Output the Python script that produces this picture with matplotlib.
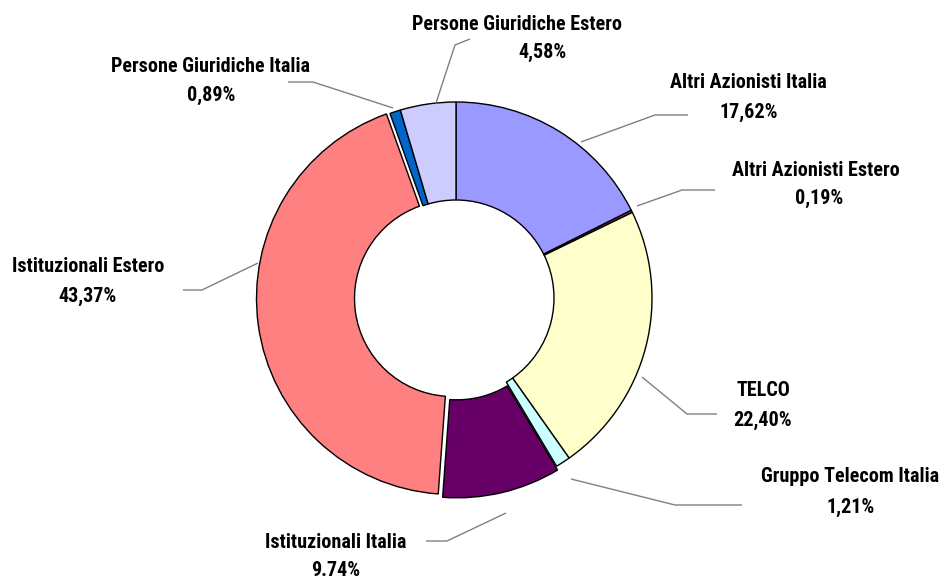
import matplotlib
matplotlib.use('Agg')
import matplotlib.pyplot as plt

# dati del grafico (quote percentuali dell'azionariato)
labels = ['Altri Azionisti Italia', 'Altri Azionisti Estero', 'TELCO',
          'Gruppo Telecom Italia', 'Istituzionali Italia', 'Istituzionali Estero',
          'Persone Giuridiche Italia', 'Persone Giuridiche Estero']
values = [17.62, 0.19, 22.40, 1.21, 9.74, 43.37, 0.89, 4.58]
pct_labels = ['17,62%', '0,19%', '22,40%', '1,21%', '9.74%', '43,37%', '0,89%', '4,58%']

colors = ['#9999FF', '#993366', '#FFFFCC', '#CCFFFF', '#660066', '#FF8080', '#0066CC', '#CCCCFF']
explode = [0, 0, 0, 0, 0.02, 0.018, 0, 0]

# posizioni (in pixel immagine) delle etichette e linee di richiamo
name_pos = [(748, 82), (816, 170), (763, 391), (850, 477), (336, 543), (88, 267), (211, 66), (517, 24)]
pct_pos = [(749, 112), (819, 198), (763, 420), (851, 507), (336, 571), (88, 296), (211, 95), (543, 52)]
leaders = [
    [(581, 142), (655, 115), (688, 115)],
    [(637, 206), (682, 190), (715, 190)],
    [(642, 377), (687, 414), (717, 414)],
    [(571, 479), (675, 505), (742, 505)],
    [(506, 513), (447, 541), (426, 541)],
    [(258, 263), (202, 290), (183, 290)],
    [(393, 108), (313, 82), (288, 82)],
    [(436, 103), (455, 45), (470, 39)],
]

W, H = 941, 578
R = 196
fig = plt.figure(figsize=(W / 100, H / 100), dpi=100)
ax = fig.add_axes([0, 0, 1, 1])

# asse y invertito: si lavora in coordinate pixel dell'immagine
# (explode di matplotlib e' in unita' dati, quindi va moltiplicato per il raggio)
ax.pie(values, colors=colors, explode=[e * R for e in explode], startangle=-90, counterclock=True,
       center=(456, 298), radius=R,
       wedgeprops=dict(width=R / 2, edgecolor='black', linewidth=1.0))

for pts in leaders:
    xs = [p[0] for p in pts]
    ys = [p[1] for p in pts]
    ax.plot(xs, ys, color='#808080', lw=1.0, solid_capstyle='butt')

font = ['Roboto Condensed', 'DejaVu Sans']
for lab, pct, (nx, ny), (px, py) in zip(labels, pct_labels, name_pos, pct_pos):
    ax.text(nx, ny, lab, ha='center', va='center', fontsize=14.5, fontweight='bold', family=font)
    ax.text(px, py, pct, ha='center', va='center', fontsize=14.5, fontweight='bold', family=font)

ax.set_xlim(0, W)
ax.set_ylim(H, 0)
ax.set_aspect('equal', adjustable='box')
ax.axis('off')

fig.savefig('out.png', dpi=100, facecolor='white')
